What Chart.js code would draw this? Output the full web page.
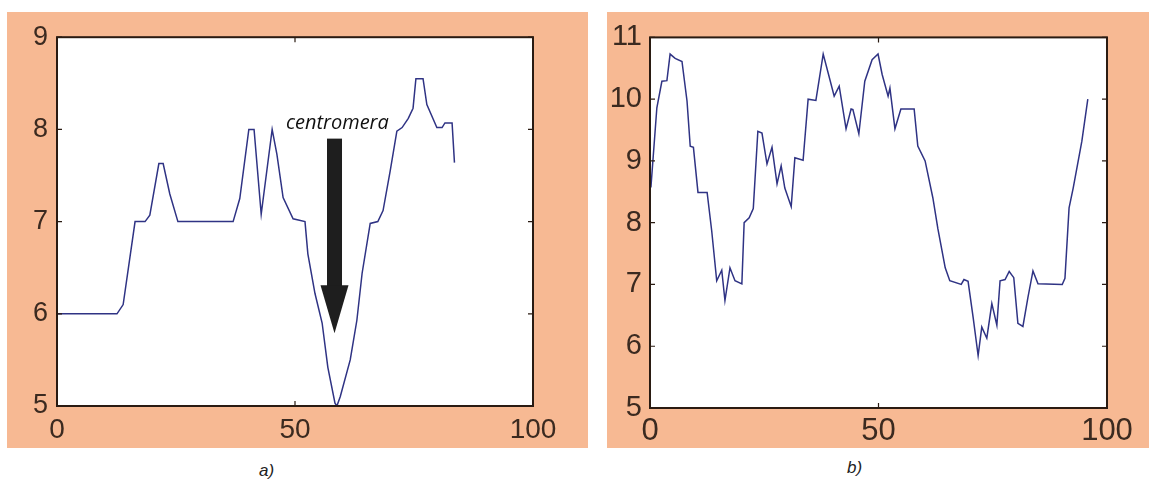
<!DOCTYPE html>
<html>
<head>
<meta charset="utf-8">
<script src="https://cdn.jsdelivr.net/npm/chart.js@4/dist/chart.umd.min.js"></script>
<style>
    body { margin: 0; background: #fff; width: 1149px; height: 481px; position: relative; overflow: hidden; }
    .panneau { position: absolute; top: 12px; height: 436px; background: #f7b993; }
    #panneauA { left: 7px; width: 581px; }
    #panneauB { left: 607px; width: 542px; }
    .legende { position: absolute; font-family: "Liberation Sans", Arial, sans-serif; font-style: italic; font-size: 17px; color: #222; }
</style>
</head>
<body>
<div class="panneau" id="panneauA"><canvas id="graphiqueA" width="581" height="436"></canvas></div>
<div class="panneau" id="panneauB"><canvas id="graphiqueB" width="542" height="436"></canvas></div>
<div class="legende" style="left:259px; top:461px;">a)</div>
<div class="legende" style="left:847px; top:458px;">b)</div>
<script>
// courbe a)
const positionsA = [0, 12.6, 13.9, 16.4, 18.5, 19.5, 21.4, 22.3, 23.7, 25.4, 37.0, 38.4, 40.3, 41.4, 42.9, 45.2, 46.2, 47.5, 49.6, 52.1, 52.7, 54.2, 55.7, 56.9, 58.4, 58.8, 59.5, 61.6, 63.0, 64.1, 65.8, 67.4, 68.5, 70.0, 71.4, 72.5, 73.8, 74.8, 75.4, 76.9, 77.7, 79.8, 80.9, 81.5, 83.0, 83.5];
const valeursA = [6, 6, 6.1, 7.0, 7.0, 7.07, 7.63, 7.63, 7.3, 7.0, 7.0, 7.25, 8.0, 8.0, 7.08, 8.0, 7.73, 7.26, 7.03, 7.0, 6.65, 6.22, 5.9, 5.42, 5.03, 5.0, 5.1, 5.5, 5.93, 6.44, 6.98, 7.0, 7.12, 7.55, 7.98, 8.02, 8.12, 8.23, 8.55, 8.55, 8.27, 8.02, 8.02, 8.07, 8.07, 7.64];
// courbe b)
const positionsB = [0.2, 1.5, 2.6, 3.7, 4.4, 5.5, 7.0, 8.1, 8.8, 9.5, 10.5, 12.5, 13.5, 14.6, 15.7, 16.4, 17.5, 18.6, 20.1, 20.6, 21.7, 22.6, 23.6, 24.5, 25.6, 26.7, 27.8, 28.7, 29.5, 30.9, 31.7, 33.5, 34.6, 36.3, 37.9, 39.0, 40.3, 41.4, 42.9, 44.0, 44.4, 45.7, 47.0, 48.6, 49.9, 50.8, 52.1, 52.5, 53.6, 54.9, 57.8, 58.6, 60.2, 61.9, 63.0, 64.6, 65.6, 68.1, 68.7, 69.6, 70.7, 71.8, 72.6, 73.7, 74.8, 75.9, 76.6, 77.7, 78.6, 79.6, 80.5, 81.6, 82.7, 83.8, 84.9, 90.2, 90.8, 91.7, 92.6, 94.5, 95.8];
const valeursB = [8.57, 9.86, 10.29, 10.3, 10.73, 10.66, 10.61, 9.97, 9.24, 9.22, 8.49, 8.49, 7.87, 7.06, 7.23, 6.74, 7.27, 7.06, 7.01, 8.0, 8.08, 8.23, 9.48, 9.45, 8.95, 9.22, 8.63, 8.92, 8.56, 8.26, 9.05, 9.01, 10.0, 9.98, 10.73, 10.42, 10.05, 10.21, 9.52, 9.84, 9.83, 9.44, 10.29, 10.64, 10.73, 10.40, 10.05, 10.18, 9.52, 9.84, 9.84, 9.24, 9.0, 8.4, 7.9, 7.27, 7.06, 7.0, 7.08, 7.05, 6.47, 5.85, 6.31, 6.13, 6.69, 6.34, 7.06, 7.08, 7.21, 7.11, 6.37, 6.32, 6.79, 7.22, 7.01, 7.0, 7.1, 8.24, 8.56, 9.32, 10.0];

// graduations
const bornesXA = [0, 100];
const bornesYA = [5, 9];
const bornesXB = [0, 100];
const bornesYB = [5, 11];

// fleche "centromera" : x, debut, fin de la tige, pointe
const texteFleche = "centromera";
const flecheA = [58.3, 7.9, 6.31, 5.79];
const texteA = [58.9, 8.07];

const couleurTexte = "#3b2a20";

function points(xs, ys) {
    const res = [];
    for (let i = 0; i < xs.length; i++) {
        res.push({ x: xs[i], y: ys[i] });
    }
    return res;
}

const cadre = {
    id: "cadre",
    beforeDraw(chart) {
        const { ctx, chartArea: a } = chart;
        ctx.save();
        ctx.fillStyle = "#fff";
        ctx.fillRect(a.left, a.top, a.right - a.left, a.bottom - a.top);
        ctx.restore();
    },
    afterDatasetsDraw(chart, args, opts) {
        const { ctx, chartArea: a, scales } = chart;
        const x = scales.x, y = scales.y;
        ctx.save();
        ctx.strokeStyle = "#2a1b12";
        ctx.lineWidth = 1.2;
        // petites graduations vers l'interieur
        ctx.beginPath();
        x.ticks.forEach(t => {
            const px = x.getPixelForValue(t.value);
            ctx.moveTo(px, a.bottom); ctx.lineTo(px, a.bottom - 5);
            ctx.moveTo(px, a.top); ctx.lineTo(px, a.top + 5);
        });
        y.ticks.forEach(t => {
            const py = y.getPixelForValue(t.value);
            ctx.moveTo(a.left, py); ctx.lineTo(a.left + 5, py);
            ctx.moveTo(a.right, py); ctx.lineTo(a.right - 5, py);
        });
        ctx.stroke();
        ctx.lineWidth = 2;
        ctx.strokeRect(a.left, a.top, a.right - a.left, a.bottom - a.top);

        if (opts.fleche) {
            const f = opts.fleche;
            const cx = x.getPixelForValue(f[0]);
            const y1 = y.getPixelForValue(f[1]);
            const y2 = y.getPixelForValue(f[2]);
            const y3 = y.getPixelForValue(f[3]);
            ctx.fillStyle = "#1e1e1e";
            ctx.fillRect(cx - 7.5, y1, 15, y2 - y1 + 1);
            ctx.beginPath();
            ctx.moveTo(cx - 14, y2);
            ctx.lineTo(cx + 14, y2);
            ctx.lineTo(cx, y3);
            ctx.closePath();
            ctx.fill();
            ctx.font = "italic 20px 'Open Sans'";
            ctx.fillStyle = "#111";
            ctx.textAlign = "center";
            ctx.textBaseline = "middle";
            ctx.fillText(opts.texte, x.getPixelForValue(opts.position[0]), y.getPixelForValue(opts.position[1]));
        }
        ctx.restore();
    }
};

function creerGraphique(id, xs, ys, bx, by, mise) {
    return new Chart(document.querySelector(id), {
        type: "line",
        data: {
            datasets: [{
                data: points(xs, ys),
                borderColor: "#2f3384",
                borderWidth: 1.5,
                pointRadius: 0,
                tension: 0,
                fill: false
            }]
        },
        options: {
            responsive: false,
            animation: false,
            events: [],
            layout: { padding: mise.padding },
            plugins: {
                legend: { display: false },
                tooltip: { enabled: false },
                cadre: mise.annotation || {}
            },
            scales: {
                x: {
                    type: "linear",
                    min: bx[0], max: bx[1],
                    grid: { display: false, drawTicks: false },
                    border: { display: false },
                    ticks: { stepSize: 50, maxRotation: 0, padding: mise.padX,
                        color: couleurTexte, font: { family: "'Liberation Sans'", size: mise.fontX } },
                    afterFit(scale) { scale.height = mise.hauteurX; }
                },
                y: {
                    min: by[0], max: by[1],
                    grid: { display: false, drawTicks: false },
                    border: { display: false },
                    ticks: { stepSize: 1, padding: mise.padY,
                        color: couleurTexte, font: { family: "'Liberation Sans'", size: mise.fontY } },
                    afterFit(scale) { scale.width = mise.largeurY; }
                }
            }
        },
        plugins: [cadre]
    });
}

creerGraphique("#graphiqueA", positionsA, valeursA, bornesXA, bornesYA, {
    padding: { left: 0, top: 24, right: 55, bottom: 0 },
    largeurY: 50, hauteurX: 42, padX: 7, padY: 9, fontX: 28, fontY: 27,
    annotation: { fleche: flecheA, texte: texteFleche, position: texteA }
});

creerGraphique("#graphiqueB", positionsB, valeursB, bornesXB, bornesYB, {
    padding: { left: 0, top: 24, right: 42, bottom: 0 },
    largeurY: 43, hauteurX: 40, padX: 5, padY: 8, fontX: 31, fontY: 29
});
</script>
</body>
</html>
